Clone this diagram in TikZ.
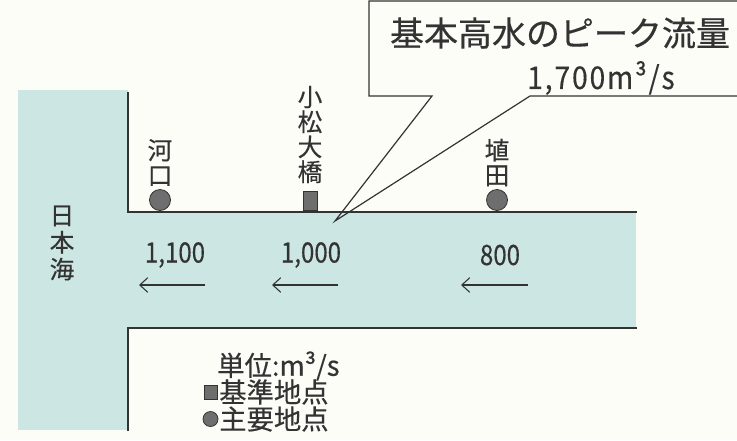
\documentclass[tikz,border=0pt]{standalone}
\usepackage{fontspec}
\setmainfont{Noto Sans CJK JP}
\newfontfamily\jp[FakeBold=0.4]{Noto Sans CJK JP}
\newfontfamily\numf[FakeStretch=0.86,FakeBold=0.4]{Noto Sans CJK JP}
\newfontfamily\peakf[FakeStretch=0.9,LetterSpace=6,FakeBold=0.3]{Noto Sans CJK JP}
\usetikzlibrary{arrows.meta}
\definecolor{bgc}{HTML}{FDFDF8}
\definecolor{water}{HTML}{CCE7E3}
\definecolor{ink}{HTML}{333333}
\definecolor{mark}{HTML}{6E6E6E}
\tikzset{
  bank/.style={draw=ink, line width=1.5pt},
  vlabel/.style={inner sep=0pt, align=center, text=ink, font=\jp\fontsize{18.5}{18.75}\selectfont},
  numlab/.style={inner sep=0pt, text=ink, font=\numf\fontsize{21}{21}\selectfont},
  flow/.style={draw=ink, line width=0.8pt, -{Straight Barb[length=6pt,width=11pt,line width=0.8pt]}},
  dot/.style={circle, fill=mark, draw=ink, line width=0.6pt, inner sep=0pt},
  sq/.style={rectangle, fill=mark, draw=ink, line width=0.6pt, inner sep=0pt},
  legtext/.style={inner sep=0pt, text=ink, font=\jp\fontsize{20.5}{20.5}\selectfont},
  callout/.style={draw=ink, line width=0.9pt, line join=miter}
}
\begin{document}
\begin{tikzpicture}[x=0.75pt, y=-0.75pt]
\useasboundingbox (0,0) rectangle (737,440);
\fill[bgc] (0,0) rectangle (737,440);
% water
\fill[water] (18,90) rectangle (128,430);
\fill[water] (126,213) rectangle (636,327);
% banks
\draw[bank] (128,92) -- (128,212) -- (637,212);
\draw[bank] (637,328) -- (128,328) -- (128,431);
% sea label
\node[vlabel, font=\jp\fontsize{18.5}{20.25}\selectfont] (sea) at (62,243) {日\\本\\海};
% stations
\node[vlabel] (kakou) at (160,162.5) {河\\口};
\node[dot, minimum size=21pt*0.75] (kakoudot) at (160,200) {};
\node[vlabel] (komatsu) at (310,134.5) {小\\松\\大\\橋};
\node[sq, minimum width=14*0.75pt, minimum height=19*0.75pt] (komatsusq) at (310,200.5) {};
\node[vlabel] (hanita) at (497,162.5) {埴\\田};
\node[dot, minimum size=21pt*0.75] (hanitadot) at (497,200) {};
% callout
\coordinate (tip) at (335,221);
\draw[callout] (432,96) -- (tip) -- (530,96) -- (745,96) -- (745,1) -- (369,1) -- (369,96) -- cycle;
\node[inner sep=0pt, text=ink, font=\jp\fontsize{25.5}{25.5}\selectfont] (title) at (560,33) {基本高水のピーク流量};
\node[inner sep=0pt, text=ink, font=\peakf\fontsize{23.5}{23.5}\selectfont] (peak) at (601,78) {1,700m³/s};
% flows
\node[numlab] (q1) at (175,255) {1,100};
\node[numlab] (q2) at (311,255) {1,000};
\node[numlab] (q3) at (500,255) {800};
\coordinate (a1s) at (205,285); \coordinate (a1e) at (139,285);
\coordinate (a2s) at (338,285); \coordinate (a2e) at (272,285);
\coordinate (a3s) at (528,285); \coordinate (a3e) at (461,285);
\draw[flow] (a1s) -- (a1e);
\draw[flow] (a2s) -- (a2e);
\draw[flow] (a3s) -- (a3e);
% legend
\node[legtext, anchor=west] (unit) at (217,366) {単位:m³/s};
\node[sq, minimum width=13*0.75pt, minimum height=14*0.75pt] (legsq) at (210.5,392.5) {};
\node[legtext, anchor=west] (leg1) at (219,392) {基準地点};
\node[dot, minimum size=15pt*0.75] (legdot) at (210.5,419) {};
\node[legtext, anchor=west] (leg2) at (219,419) {主要地点};
\end{tikzpicture}
\end{document}
